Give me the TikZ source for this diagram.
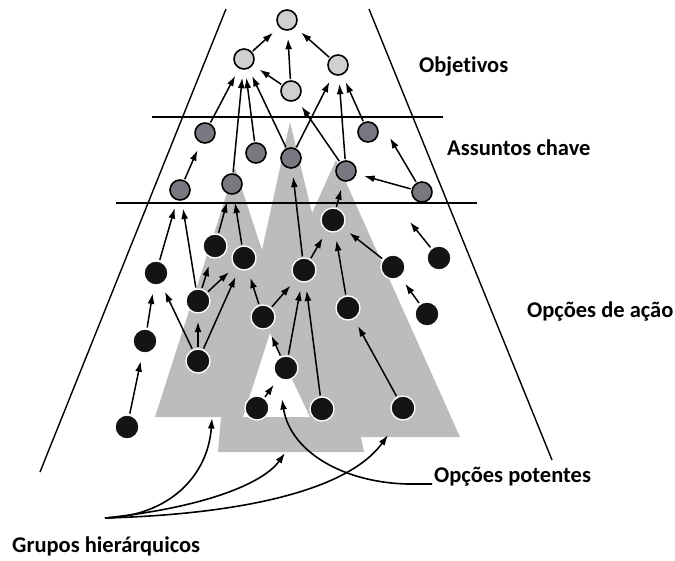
\documentclass[tikz,border=0pt]{standalone}
\usepackage{fontspec}
\setmainfont{Carlito}[Ligatures=NoCommon]
\usetikzlibrary{arrows.meta}
\definecolor{objfill}{RGB}{208,208,208}
\definecolor{keyfill}{RGB}{122,119,128}
\definecolor{optfill}{RGB}{20,20,20}
\definecolor{groupfill}{RGB}{188,188,188}

\begin{document}
\begin{tikzpicture}[x=1pt, y=-1pt,
    objnode/.style={circle, draw=black, line width=1.6pt, fill=objfill, minimum size=20pt, inner sep=0pt},
    keynode/.style={circle, draw=black, line width=1.6pt, fill=keyfill, minimum size=20pt, inner sep=0pt},
    optnode/.style={circle, draw=white, line width=1.3pt, fill=optfill, minimum size=24pt, inner sep=0pt},
    arrowlink/.style={-{Latex[length=10.5pt, width=7pt]}, line width=1.5pt, shorten <=1pt, shorten >=8pt},
    curvelink/.style={-{Latex[length=10.5pt, width=7pt]}, line width=1.6pt},
    rim/.style={line width=1.4pt},
    levelname/.style={font=\bfseries\fontsize{22.5}{26}\selectfont, inner sep=0pt, anchor=base west}]
    % picture frame in pixels, y pointing down
    \useasboundingbox (0,0) rectangle (675,560);

    % Hierarchical groups: overlapping cones with an open wedge
    \fill[groupfill, even odd rule]
        (235,168) -- (262,250) -- (290,122) -- (312,213) -- (336,160) -- (460,437) -- (361,437)
        -- (364,452) -- (218,452) -- (221,417) -- (155,417) -- cycle
        (270,333) -- (243,417) -- (310,417) -- cycle;

    % Funnel sides and level separators
    \draw[rim] (226,9) -- (40,472);
    \draw[rim] (369,9) -- (552,460);
    \draw[rim] (152,117) -- (443,117);
    \draw[rim] (116,203) -- (477,203);

    % Objectives
    \node[objnode] (o1) at (287,20) {};
    \node[objnode] (o2) at (244,59) {};
    \node[objnode] (o3) at (338,65) {};
    \node[objnode] (o4) at (291,91) {};

    % Key issues
    \node[keynode] (k1) at (205,133) {};
    \node[keynode] (k2) at (256,153) {};
    \node[keynode] (k3) at (291,158) {};
    \node[keynode] (k4) at (368,132) {};
    \node[keynode] (k5) at (180,190) {};
    \node[keynode] (k6) at (232,184) {};
    \node[keynode] (k7) at (346,171) {};
    \node[keynode] (k8) at (422,192) {};

    % Action options
    \node[optnode] (a1) at (333,220) {};
    \node[optnode] (a2) at (215,246) {};
    \node[optnode] (a3) at (244,258) {};
    \node[optnode] (a4) at (304,270) {};
    \node[optnode] (a5) at (393,267) {};
    \node[optnode] (a6) at (439,258) {};
    \node[optnode] (a7) at (156,273) {};
    \node[optnode] (a8) at (198,301) {};
    \node[optnode] (a9) at (263,317) {};
    \node[optnode] (a10) at (348,308) {};
    \node[optnode] (a11) at (427,314) {};
    \node[optnode] (a12) at (145,341) {};
    \node[optnode] (a13) at (198,361) {};
    \node[optnode] (a14) at (286,368) {};
    \node[optnode] (a15) at (257,408) {};
    \node[optnode] (a16) at (322,409) {};
    \node[optnode] (a17) at (403,408) {};
    \node[optnode] (a18) at (127,427) {};

    % Level names
    \node[levelname] (objetivos) at (419,72) {Objetivos};
    \node[levelname] (assuntos) at (447,155) {Assuntos chave};
    \node[levelname] (acao) at (527,317) {Opções de ação};
    \node[levelname] (potentes) at (434,482) {Opções potentes};
    \node[levelname] (grupos) at (12,552) {Grupos hierárquicos};

    % Links among objectives
    \draw[arrowlink] (o2) -- (o1);
    \draw[arrowlink] (o4) -- (o1);
    \draw[arrowlink] (o3) -- (o1);
    \draw[arrowlink] (o4) -- (o2);

    % Key issues up to objectives
    \draw[arrowlink] (k1) -- (o2);
    \draw[arrowlink] (k6) -- (o2);
    \draw[arrowlink] (k2) -- (o2);
    \draw[arrowlink] (k3) -- (o2);
    \draw[arrowlink] (k3) -- (o3);
    \draw[arrowlink] (k7) -- (o3);
    \draw[arrowlink] (k4) -- (o3);
    \draw[arrowlink] (k7) -- (o4);
    \draw[arrowlink] (k5) -- (k1);
    \draw[arrowlink] (k8) -- (k7);
    \coordinate (tipk4) at (390,138);
    \draw[arrowlink, shorten >=0pt] (k8) -- (tipk4);

    % Options up to key issues
    \draw[arrowlink] (a1) -- (k7);
    \draw[arrowlink] (a4) -- (k3);
    \draw[arrowlink] (a2) -- (k6);
    \draw[arrowlink] (a3) -- (k6);
    \draw[arrowlink] (a7) -- (k5);
    \draw[arrowlink] (a8) -- (k5);
    \coordinate (tipk8) at (410,222);
    \draw[arrowlink, shorten >=0pt] (a6) -- (tipk8);

    % Links among options
    \draw[arrowlink] (a8) -- (a2);
    \draw[arrowlink] (a8) -- (a3);
    \draw[arrowlink] (a13) -- (a8);
    \draw[arrowlink] (a13) -- (a7);
    \draw[arrowlink] (a13) -- (a3);
    \draw[arrowlink] (a9) -- (a3);
    \draw[arrowlink] (a9) -- (a4);
    \draw[arrowlink] (a12) -- (a7);
    \draw[arrowlink] (a18) -- (a12);
    \draw[arrowlink] (a14) -- (a9);
    \draw[arrowlink] (a14) -- (a4);
    \draw[arrowlink] (a15) -- (a14);
    \draw[arrowlink] (a16) -- (a4);
    \draw[arrowlink] (a4) -- (a1);
    \draw[arrowlink] (a10) -- (a1);
    \draw[arrowlink] (a5) -- (a1);
    \draw[arrowlink] (a11) -- (a5);
    \draw[arrowlink] (a17) -- (a10);

    % Pointers from the bottom labels
    \coordinate (hub) at (105,518);
    \coordinate (grpA) at (212,418);
    \coordinate (grpB) at (285,453);
    \coordinate (grpC) at (388,435);
    \coordinate (potent) at (282,399);
    \draw[curvelink] (hub) .. controls (170,516) and (208,475) .. (grpA);
    \draw[curvelink] (hub) .. controls (200,508) and (262,485) .. (grpB);
    \draw[curvelink] (hub) .. controls (250,514) and (350,488) .. (grpC);
    \draw[curvelink] ([xshift=-2pt, yshift=-2pt]potentes.base west) -- ++(-25,0)
        .. controls (340,482) and (290,450) .. (potent);
\end{tikzpicture}
\end{document}
